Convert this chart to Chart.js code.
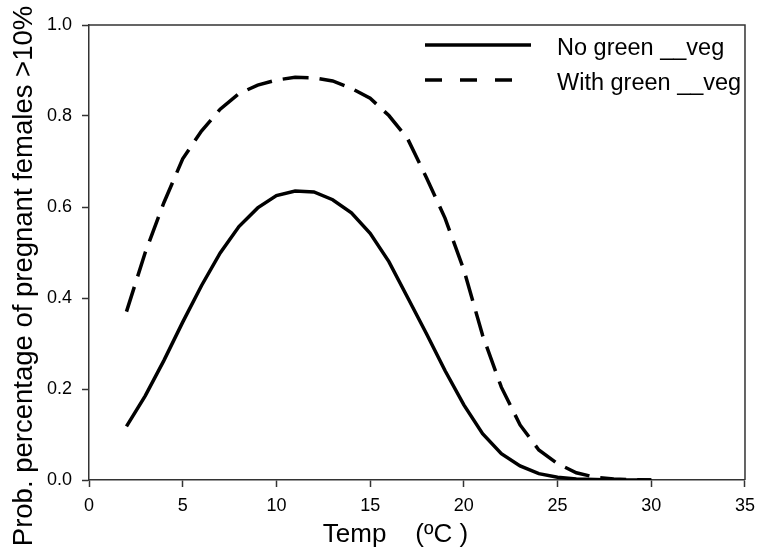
<!DOCTYPE html>
<html>
<head>
<meta charset="utf-8">
<script src="https://cdn.jsdelivr.net/npm/chart.js@4"></script>
<style>
  html, body { margin: 0; padding: 0; background: #fff; }
  #wrap { width: 763px; height: 550px; }
</style>
</head>
<body>
<div id="wrap"><canvas id="tempChart" width="763" height="550"></canvas></div>
<script>
// values
var temps = [2, 3, 4, 5, 6, 7, 8, 9, 10, 11, 12, 13, 14, 15, 16, 17, 18, 19, 20, 21, 22, 23, 24, 25, 26, 27, 28, 29, 30];
var noGreenVeg = [0.118, 0.185, 0.263, 0.347, 0.427, 0.499, 0.557, 0.598, 0.625, 0.635, 0.633, 0.616, 0.587, 0.542, 0.480,
                  0.401, 0.322, 0.240, 0.165, 0.102, 0.058, 0.031, 0.014, 0.006, 0.002, 0.001, 0.0, 0.0, 0.0];
var withGreenVeg = [0.370, 0.500, 0.610, 0.706, 0.767, 0.815, 0.849, 0.868, 0.879, 0.885, 0.884, 0.877, 0.861, 0.839, 0.801,
                    0.750, 0.665, 0.575, 0.462, 0.318, 0.204, 0.121, 0.066, 0.036, 0.016, 0.006, 0.002, 0.001, 0.0];
var seriesNames = ["No green __veg", "With green __veg"];
var xTitle = "Temp    (\u00BAC )";
var yTitle = "Prob. percentage of pregnant females >10%";

var FONT = '"Liberation Sans", Arial, sans-serif';
var AXIS = '#333';

function toPoints(ys) {
  return temps.map(function(t, i) { return { x: t, y: ys[i] }; });
}

// box, in-plot legend and axis titles
var decorations = {
  id: 'decorations',
  afterDraw: function(chart) {
    var ctx = chart.ctx;
    var a = chart.chartArea;
    ctx.save();
    ctx.strokeStyle = AXIS;
    ctx.lineWidth = 1.5;
    ctx.beginPath();
    ctx.moveTo(a.left, a.top);
    ctx.lineTo(a.right, a.top);
    ctx.lineTo(a.right, a.bottom);
    ctx.stroke();

    // legend
    ctx.fillStyle = '#000';
    ctx.font = '23.5px ' + FONT;
    ctx.textBaseline = 'alphabetic';
    ctx.textAlign = 'left';
    var rows = [45, 80];
    chart.data.datasets.forEach(function(ds, i) {
      ctx.beginPath();
      ctx.strokeStyle = ds.borderColor;
      ctx.lineWidth = ds.borderWidth;
      ctx.setLineDash(ds.borderDash && ds.borderDash.length ? [17, 18] : []);
      ctx.moveTo(425, rows[i]);
      ctx.lineTo(i === 0 ? 531 : 525, rows[i]);
      ctx.stroke();
      ctx.setLineDash([]);
      ctx.fillText(ds.label, 557, rows[i] + 10);
    });

    // axis titles
    ctx.font = '26px ' + FONT;
    ctx.textAlign = 'center';
    ctx.fillText(xTitle, 395.5, 541.5);

    ctx.translate(31.5, 276);
    ctx.rotate(-Math.PI / 2);
    ctx.font = '27.5px ' + FONT;
    ctx.fillText(yTitle, 0, 0);
    ctx.restore();
  }
};

var config = {
  type: 'line',
  data: {
    datasets: [{
      label: seriesNames[0],
      data: toPoints(noGreenVeg),
      borderColor: '#000',
      borderWidth: 3.5,
      borderDash: [],
      pointRadius: 0,
      tension: 0,
      fill: false
    }, {
      label: seriesNames[1],
      data: toPoints(withGreenVeg),
      borderColor: '#000',
      borderWidth: 3.5,
      borderDash: [26, 11],
      pointRadius: 0,
      tension: 0,
      fill: false
    }]
  },
  options: {
    responsive: false,
    animation: false,
    layout: { padding: { top: 25, right: 13, left: 0, bottom: 0 } },
    plugins: {
      legend: { display: false },
      title: { display: false },
      tooltip: { enabled: false }
    },
    scales: {
      x: {
        type: 'linear',
        min: 0,
        max: 35,
        ticks: {
          stepSize: 5,
          color: '#000',
          padding: 8,
          maxRotation: 0,
          font: { family: FONT, size: 18 }
        },
        grid: { drawOnChartArea: false, drawTicks: true, tickLength: 7, color: AXIS, tickWidth: 1.5 },
        border: { color: AXIS, width: 1.5 },
        afterFit: function(scale) { scale.height = 70; }
      },
      y: {
        min: 0,
        max: 1,
        ticks: {
          stepSize: 0.2,
          color: '#000',
          padding: 10,
          font: { family: FONT, size: 18 },
          callback: function(v) { return v.toFixed(1); }
        },
        grid: { drawOnChartArea: false, drawTicks: true, tickLength: 7, color: AXIS, tickWidth: 1.5 },
        border: { color: AXIS, width: 1.5 },
        afterFit: function(scale) { scale.width = 89; }
      }
    }
  },
  plugins: [decorations]
};

var ctx = document.getElementById('tempChart').getContext('2d');
window.tempChart = new Chart(ctx, config);
</script>
</body>
</html>
